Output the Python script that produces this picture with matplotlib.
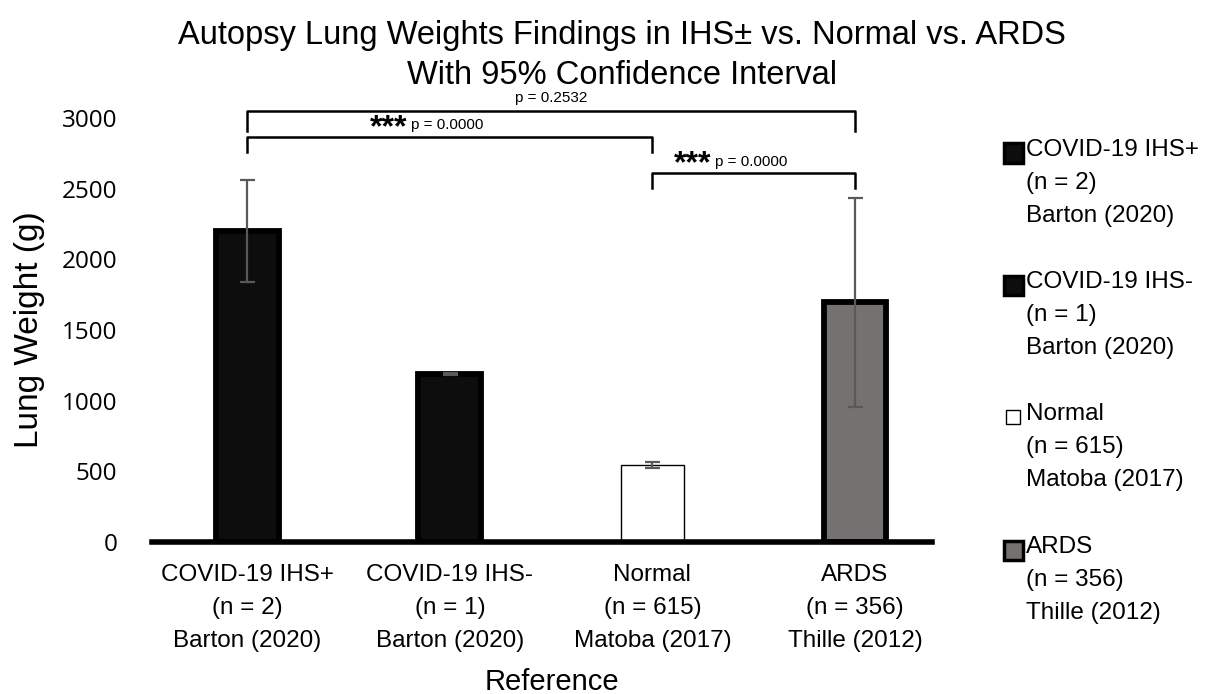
import matplotlib

matplotlib.use("Agg")
import matplotlib.pyplot as plt  # noqa: E402
from matplotlib.patches import Rectangle  # noqa: E402

plt.rcParams["font.family"] = ["Liberation Sans", "DejaVu Sans"]

groups = ["COVID-19 IHS+", "COVID-19 IHS-", "Normal", "ARDS"]
n_sizes = [2, 1, 615, 356]
sources = ["Barton (2020)", "Barton (2020)", "Matoba (2017)", "Thille (2012)"]
weights = [2200, 1190, 545, 1695]
ci_half = [360, 5, 20, 740]
fills = ["#0d0d0d", "#0d0d0d", "#ffffff", "#767171"]
edge_w = [4.2, 4.2, 1.0, 4.2]

# significance brackets: (left bar, right bar, bracket height, leg bottom, stars, p text)
brackets = [
    (0, 3, 3052, 2908, "", "p = 0.2532"),
    (0, 2, 2868, 2762, "***", "p = 0.0000"),
    (2, 3, 2611, 2505, "***", "p = 0.0000"),
]

labels = [f"{g}\n(n = {n})\n{s}" for g, n, s in zip(groups, n_sizes, sources)]
x = list(range(len(groups)))

W, H = 1225, 694
fig = plt.figure(figsize=(W / 100, H / 100), dpi=100)
ax = fig.add_axes([152 / W, 1 - 542 / H, 780 / W, 424 / H])

ax.bar(x, weights, width=0.31, color=fills, edgecolor="black",
       linewidth=edge_w, zorder=2)
ax.errorbar(x, weights, yerr=ci_half, fmt="none", ecolor="#595959",
            elinewidth=1.6, capsize=5.4, capthick=1.6, zorder=3)

for i0, i1, top, leg, stars, ptxt in brackets:
    ax.plot([i0, i0, i1, i1], [leg, top, top, leg], color="black", lw=1.8,
            clip_on=False, zorder=4)
    mid = (i0 + i1) / 2
    if stars:
        ax.text(mid - 0.21, top + 5, stars, ha="right", va="baseline",
                fontsize=23, fontweight="bold", clip_on=False)
        ax.text(mid - 0.19, top + 80, ptxt, ha="left", va="center",
                fontsize=11, clip_on=False)
    else:
        ax.text(mid, top + 90, ptxt, ha="center", va="center", fontsize=11,
                clip_on=False)

ax.set_xlim(-0.47, 3.38)
ax.set_ylim(0, 3000)
ax.set_yticks([0, 500, 1000, 1500, 2000, 2500, 3000])
ax.set_xticks(x)
ax.set_xticklabels(labels, fontsize=17.5, linespacing=1.64)
ax.tick_params(axis="x", length=0, pad=16)
ax.tick_params(axis="y", length=0, pad=25)
for t in ax.get_yticklabels():
    t.set_fontfamily("Open Sans")
    t.set_fontsize(17.5)
for side in ["top", "right", "left"]:
    ax.spines[side].set_visible(False)
ax.spines["bottom"].set_linewidth(4)

ax.set_ylabel("Lung Weight (g)", fontsize=24)
ax.yaxis.set_label_coords(-0.137, 0.502)
ax.set_xlabel("Reference", fontsize=21)
ax.xaxis.set_label_coords(0.513, -0.298)

fig.text(622 / W, 1 - 20 / H,
         "Autopsy Lung Weights Findings in IHS\u00b1 vs. Normal vs. ARDS\n"
         "With 95% Confidence Interval", fontsize=23.5, ha="center",
         va="top", multialignment="center", linespacing=1.36)

# legend: square swatch level with the first line of each entry
entry_top = [153, 285, 417, 550]
for lab, f, yc in zip(labels, fills, entry_top):
    size = 19 if f != "#ffffff" else 14
    fig.add_artist(Rectangle(((1013 - size / 2) / W, 1 - (yc + size / 2) / H),
                             size / W, size / H, transform=fig.transFigure,
                             facecolor=f, edgecolor="black",
                             linewidth=2.5 if f != "#ffffff" else 1.0))
    fig.text(1026 / W, 1 - (yc - 14) / H, lab, fontsize=17.5, ha="left",
             va="top", linespacing=1.64)

fig.savefig("out.png", dpi=100)
